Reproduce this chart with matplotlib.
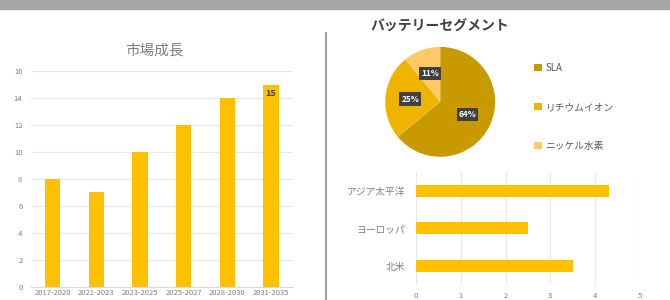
import matplotlib.pyplot as plt
from matplotlib.patches import Rectangle
from matplotlib.lines import Line2D

plt.rcParams['font.family'] = ['Noto Sans CJK JP', 'DejaVu Sans']

# market growth
periods = ['2017-2020', '2021-2023', '2023-2025', '2025-2027', '2028-2030', '2031-2035']
growth = [8, 7, 10, 12, 14, 15]

# battery segment share
segments = ['SLA', 'リチウムイオン', 'ニッケル水素']
shares = [64, 25, 11]
seg_colors = ['#c99a00', '#f0b400', '#ffc967']

# regions
regions = ['北米', 'ヨーロッパ', 'アジア太平洋']
region_vals = [3.5, 2.5, 4.3]

bar_color = '#ffc000'
grid_color = '#e8e8e8'
tick_color = '#7f7f7f'

fig = plt.figure(figsize=(6.7, 3.0), dpi=100)

# top band and divider
fig.patches.append(Rectangle((0, 0.97), 1, 0.03, transform=fig.transFigure,
                             color='#a6a6a6', zorder=0))
fig.lines.append(Line2D([326 / 670, 326 / 670], [0, 0.89], transform=fig.transFigure,
                        color='#a0a0a0', lw=1.5))

# left: market growth
ax = fig.add_axes([0.046, 0.045, 0.391, 0.718])
x = range(len(periods))
bars = ax.bar(x, growth, width=0.35, color=bar_color, zorder=2)
ax.set_ylim(0, 16)
ax.set_xlim(-0.5, len(periods) - 0.5)
ax.set_yticks(range(0, 17, 2))
ax.set_xticks(list(x))
ax.set_xticklabels(periods)
ax.yaxis.grid(True, color=grid_color, lw=0.8)
ax.set_axisbelow(True)
for s in ax.spines.values():
    s.set_visible(False)
ax.spines['bottom'].set_visible(True)
ax.spines['bottom'].set_color('#d9d9d9')
ax.tick_params(axis='y', length=0, labelsize=5.5, colors=tick_color, pad=6)
ax.tick_params(axis='x', length=0, labelsize=5.5, colors=tick_color, pad=1.5)
ax.text(x[-1], growth[-1] - 0.7, str(growth[-1]), ha='center', va='center',
        fontsize=6.5, fontweight='bold', color='#404040')
fig.text(155 / 670, 0.833, '市場成長', ha='center', va='center',
         fontsize=10.5, color='#7f7f7f')

# right top: pie
axp = fig.add_axes([0.575, 0.477, 0.164, 0.367])
wedges, _, autotexts = axp.pie(shares, colors=seg_colors, startangle=90, counterclock=False,
                               autopct='%d%%', pctdistance=0.55,
                               textprops=dict(color='white', fontsize=6, fontweight='bold'))
for t in autotexts:
    t.set_bbox(dict(boxstyle='square,pad=0.25', facecolor='#404040', edgecolor='none'))
axp.set_xlim(-1.0, 1.0)
axp.set_ylim(-1.0, 1.0)
axp.set_aspect('equal')
fig.text(440 / 670, 0.91, 'バッテリーセグメント', ha='center', va='center',
         fontsize=10, fontweight='bold', color='#404040')
fig.legend(wedges, segments, loc='upper left', bbox_to_anchor=(525 / 670, 1 - 54 / 300),
           frameon=False, fontsize=7, labelcolor='#595959', handlelength=0.8,
           handleheight=0.8, handletextpad=0.4, labelspacing=3.0)

# right bottom: regions
axb = fig.add_axes([0.621, 0.05, 0.334, 0.377])
axb.barh(range(len(regions)), region_vals, height=0.32, color=bar_color, zorder=2)
axb.set_xlim(0, 5)
axb.set_ylim(-0.5, len(regions) - 0.5)
axb.set_yticks(range(len(regions)))
axb.set_yticklabels(regions)
axb.set_xticks(range(6))
axb.xaxis.grid(True, color=grid_color, lw=0.8)
axb.set_axisbelow(True)
for s in axb.spines.values():
    s.set_visible(False)
axb.tick_params(axis='x', length=0, labelsize=5.5, colors=tick_color, pad=5)
axb.tick_params(axis='y', length=0, labelsize=7, colors=tick_color, pad=8)

fig.savefig('out.png', dpi=100)
